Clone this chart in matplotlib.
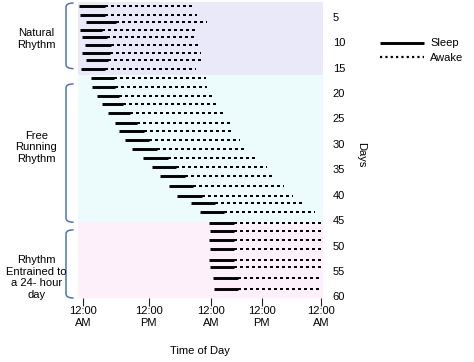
import matplotlib
matplotlib.use("Agg")
import matplotlib.pyplot as plt
from matplotlib.path import Path
from matplotlib.patches import PathPatch
from matplotlib.transforms import blended_transform_factory

plt.rcParams['font.family'] = ['Liberation Sans', 'DejaVu Sans']
plt.rcParams['font.size'] = 8

# each row: day (y), sleep start, sleep end / wake start, wake end (hours from first midnight)
day = [2.9, 4.6, 6.0, 7.7, 9.0, 10.5, 12.1, 13.6, 15.3,
       17.0, 18.8, 20.5, 22.2, 23.9, 25.8, 27.4, 29.2, 31.1, 32.8, 34.5,
       36.4, 38.2, 40.2, 41.7, 43.3,
       45.5, 47.1, 48.9, 50.7, 52.8, 54.3, 56.3, 58.6]
sleep_start = [-0.8, -0.6, 0.5, -0.6, -0.3, 0.3, -0.3, 0.5, -0.4,
               1.4, 1.7, 2.5, 3.6, 4.7, 6.0, 6.8, 7.8, 9.2, 11.3, 12.9,
               14.5, 16.1, 17.7, 20.2, 21.9,
               23.7, 23.8, 23.6, 23.8, 23.7, 23.8, 24.3, 24.6]
sleep_end = [4.1, 4.0, 6.2, 3.6, 4.4, 5.2, 5.0, 4.7, 4.0,
             5.8, 6.0, 6.8, 7.5, 8.8, 10.0, 11.4, 12.4, 13.8, 16.0, 17.4,
             19.1, 20.7, 22.4, 24.8, 26.5,
             28.3, 28.4, 28.3, 28.3, 28.4, 28.4, 29.0, 29.1]
wake_end = [21.0, 21.3, 23.2, 21.3, 21.3, 22.1, 22.1, 22.1, 21.1,
            23.0, 23.3, 24.1, 25.3, 26.3, 27.6, 28.3, 29.5, 30.8, 32.9, 34.5,
            36.0, 37.7, 39.5, 41.7, 43.6,
            45.3, 45.3, 45.3, 45.3, 45.3, 45.3, 44.8, 44.8]

# phases: label, band span, band colour
phases = ["Natural\nRhythm", "Free\nRunning\nRhythm", "Rhythm\nEntrained to\na 24- hour\nday"]
phase_spans = [(2.1, 16.4), (16.4, 45.3), (45.3, 60.3)]
phase_colors = ["#E9E9FA", "#ECFCFC", "#FDF0FA"]
bracket_spans = [(2.3, 15.2), (18.2, 45.4), (46.9, 60.3)]
label_days = [9.4, 30.7, 56.3]

tick_hours = [0, 12.3, 24, 33.5, 44.7]
tick_labels = ["12:00\nAM", "12:00\nPM", "12:00\nAM", "12:00\nPM", "12:00\nAM"]
day_ticks = [5, 10, 15, 20, 25, 30, 35, 40, 45, 50, 55, 60]

fig = plt.figure(figsize=(4.74, 3.62), dpi=100)
ax = fig.add_axes([78 / 474, 64 / 362, 245 / 474, 296 / 362])

for (a, b), c in zip(phase_spans, phase_colors):
    ax.axhspan(a, b, color=c, lw=0, zorder=0)

for d, s0, s1, w1 in zip(day, sleep_start, sleep_end, wake_end):
    sl, = ax.plot([s0, s1], [d, d], color="black", lw=2.1, solid_capstyle="butt")
    aw, = ax.plot([s1, w1], [d, d], color="black", lw=1.6,
                  linestyle=(0, (1, 1.4)), dash_capstyle="butt", antialiased=False)

ax.set_xlim(-1.0, 45.05)
ax.set_ylim(60.3, 2.1)
for sp in ax.spines.values():
    sp.set_visible(False)

ax.set_xticks(tick_hours)
ax.set_xticklabels(tick_labels, linespacing=1.2)
ax.tick_params(axis="x", length=6, width=0.8, pad=0, color="#222222")
ax.yaxis.tick_right()
ax.set_yticks(day_ticks)
ax.tick_params(axis="y", length=0, pad=7)

fig.text(200 / 474, 1 - 351 / 362, "Time of Day", ha="center", va="center")
fig.text(361 / 474, 1 - 155 / 362, "Days", rotation=270, ha="center", va="center")

# blue brackets and group labels on the left
tr = blended_transform_factory(ax.transAxes, ax.transData)
xv, xh, r = -0.049, -0.018, 0.8
for (y0, y1), lab, yl in zip(bracket_spans, phases, label_days):
    verts = [(xh, y0), (xv, y0), (xv, y0 + r), (xv, y1 - r), (xv, y1), (xh, y1)]
    codes = [Path.MOVETO, Path.CURVE3, Path.CURVE3, Path.LINETO, Path.CURVE3, Path.CURVE3]
    ax.add_patch(PathPatch(Path(verts, codes), fill=False, edgecolor="#4A72C0",
                           lw=1.1, transform=tr, clip_on=False))
    ax.text(-0.17, yl, lab, transform=tr, ha="center", va="center",
            multialignment="center", linespacing=1.2)

ax.legend([sl, aw], ["Sleep", "Awake"], loc="upper left",
          bbox_to_anchor=(380 / 474, 1 - 38.5 / 362), bbox_transform=fig.transFigure,
          frameon=False, borderpad=0, borderaxespad=0, handlelength=4.0,
          handletextpad=0.5, labelspacing=0.4)

fig.savefig("out.png", dpi=100)
